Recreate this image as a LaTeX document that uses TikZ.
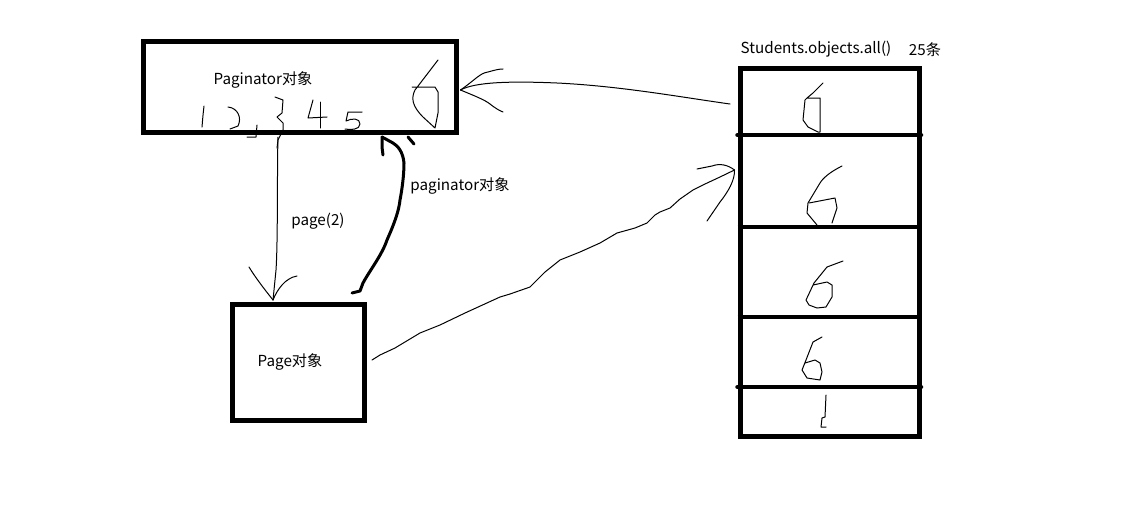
\documentclass[tikz,border=0pt]{standalone}
\usepackage{fontspec}
\setmainfont{Noto Sans CJK SC}
\begin{document}
\begin{tikzpicture}[x=1pt,y=-1pt]
\tikzset{
  box/.style={draw,line width=5pt,inner sep=0pt},
  lbl/.style={font=\fontsize{15.2}{17}\selectfont,inner sep=0pt},
  hand/.style={line width=1pt,line join=round,line cap=round},
  heavy/.style={line width=3pt,line join=round,line cap=round},
  divider/.style={line width=4.5pt},
}
\useasboundingbox (0,0) rectangle (1129,520);
\fill[white] (0,0) rectangle (1129,520);

% boxes
\node[box,minimum width=313pt,minimum height=91pt] (pag) at (299.5,86.5) {};
\node[box,minimum width=132pt,minimum height=116pt] (page) at (298,362) {};
\node[box,minimum width=179pt,minimum height=368pt] (stu) at (829.5,252) {};

% dividers of the students column
\draw[divider,line cap=round] (stu.west |- 0,135) -- (921,135);
\draw[divider] (stu.west |- 0,227) -- (stu.east |- 0,227);
\draw[divider] (stu.west |- 0,317) -- (stu.east |- 0,317);
\draw[divider,line cap=round] (stu.west |- 0,387) -- (921,387);

% labels
\node[lbl] (pagtxt) at (263,80) {Paginator对象};
\node[lbl] (pagetxt) at (290,362) {Page对象};
\node[lbl] (p2txt) at (318,221) {page(2)};
\node[lbl] (ptxt) at (460,186) {paginator对象};
\node[lbl] (stutxt) at (816,49) {Students.objects.all()};
\node[lbl] (cnt) at (925,50) {25条};

% handwritten digits in the paginator box
\draw[hand] (204,106) .. controls (203,115) .. (202,127);
\draw[hand] (228,107) .. controls (238,108) and (242,118) .. (238,126) -- (230,129);
\draw[hand] (257,125) -- (256,137) -- (247,137);
\draw[hand] (275,97) -- (283,100) -- (282,113) -- (277,117) -- (283,123) -- (283,130) -- (278,140) -- (277,148);
\draw[hand] (313,100) -- (308,118) -- (327,117);
\draw[hand] (320,102) -- (320,128);
\draw[hand] (362,112) -- (350,112) -- (348,112) -- (346,121) .. controls (352,118) and (360,118) .. (360,124) .. controls (360,130) and (350,130) .. (345,129);
\draw[hand] (438,60) -- (415,90) .. controls (411,98) and (412,106) .. (423,117) -- (435,128)
  -- (438,113) -- (438,92) -- (435,87) -- (412,87);

% handwritten digits in the students column
\draw[hand] (823,83) -- (813,93) -- (807,98) -- (805,100) -- (803,120) -- (808,127) -- (818,132) -- (820,132) -- (820,98) -- (807,98);
\draw[hand] (842,166) .. controls (830,172) and (823,178) .. (820,183) -- (808,203) -- (807,213) -- (817,225);
\draw[hand] (809,203) -- (835,198) -- (837,208) -- (832,223);
\draw[hand] (843,261) -- (827,267) -- (814,283) -- (806,300) -- (809,305) -- (817,308) -- (826,307) -- (832,297) -- (832,285) -- (827,282) -- (813,285);
\draw[hand] (822,337) -- (813,342) -- (806,360) -- (802,370) -- (807,378) -- (820,380) -- (822,372) -- (820,363) -- (815,360) -- (805,363);
\draw[hand] (826,395) -- (825,417) -- (822,418) -- (821,427) -- (826,427);

% connector: students (first block) -> paginator
\coordinate (s1) at (730,104);
\coordinate (p1) at (pag.east |- 0,90);
\draw[hand] (s1) .. controls (680,97) and (620,86) .. (557,83)
  .. controls (510,81) and (475,82) .. ([xshift=2pt]p1);
\draw[hand] ([xshift=2pt]p1) .. controls (475,80) and (480,73) .. (488,72) .. controls (495,70) and (499,69) .. (503,69);
\draw[hand] ([xshift=2pt]p1) .. controls (475,96) and (485,100) .. (490,104) .. controls (495,108) and (500,111) .. (503,112);

% connector: page -> students (second block)
\coordinate (pg1) at (372,360);
\coordinate (s2) at (stu.west |- 0,170);
\draw[hand] (pg1) -- (380,355) -- (395,348) -- (420,333) -- (440,325) -- (465,313) -- (500,297)
  -- (510,294) -- (530,287) -- (545,272) -- (560,260) -- (580,252) -- (600,243) -- (617,233)
  -- (635,228) -- (647,223) -- (655,215) -- (660,212) -- (670,208) -- (680,199) -- (693,190)
  -- (705,184) -- (720,177) -- ([xshift=-3pt]s2);
\draw[hand] ([xshift=-3pt]s2) .. controls (728,165) and (720,163) .. (712,166) -- (697,169);
\draw[hand] ([xshift=-3pt]s2) .. controls (735,180) and (728,192) .. (720,202) -- (707,221);

% connector: paginator -> page  (page(2))
\coordinate (p2) at (278,137);
\coordinate (pgtop) at (273,300);
\draw[hand] (p2) .. controls (277,170) and (278,240) .. (276,270) -- (pgtop);
\draw[hand] (pgtop) .. controls (265,290) and (255,277) .. (249,267);
\draw[hand] (pgtop) .. controls (277,290) and (285,278) .. (297,276);

% connector: page -> paginator (paginator对象), thick
\coordinate (pg2) at (352,293);
\coordinate (p3) at (382,137);
\draw[heavy] (pg2) -- (360,291) -- (363,283) .. controls (370,270) and (382,255) .. (387,240)
  .. controls (395,222) and (399,210) .. (400,200) .. controls (402,190) and (404,175) .. (404,163)
  .. controls (403,152) and (398,146) .. (393,143) -- (p3);
\draw[heavy] (p3) -- (382,147) -- (383,155);
\draw[heavy] (408,137) -- (414,144);
\end{tikzpicture}
\end{document}
